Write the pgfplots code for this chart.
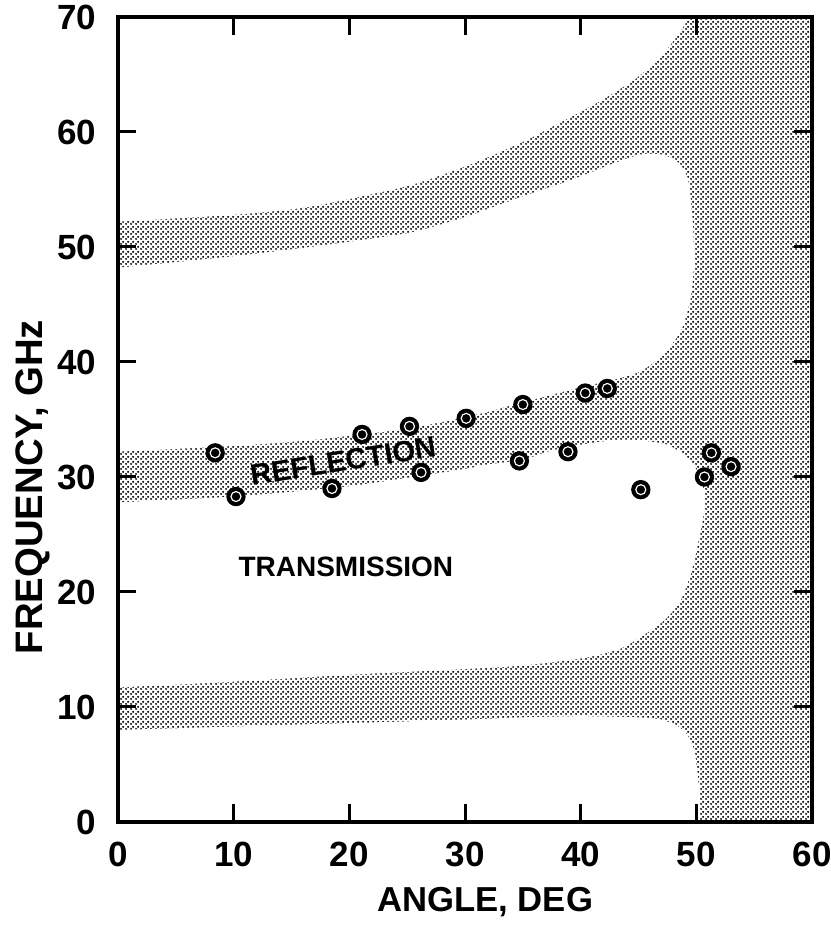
\documentclass[border=0pt]{standalone}
\usepackage{pgfplots}
\pgfplotsset{compat=1.18}
\usepackage{fontspec}
\setmainfont{Liberation Sans}
\usetikzlibrary{patterns}
\pgfdeclarepatternformonly{halftone}{\pgfqpoint{0pt}{0pt}}{\pgfqpoint{1.5pt}{1.5pt}}{\pgfqpoint{1.5pt}{1.5pt}}{%
 \pgfpathcircle{\pgfqpoint{0.375pt}{0.375pt}}{0.37pt}%
 \pgfpathcircle{\pgfqpoint{1.125pt}{1.125pt}}{0.37pt}%
 \pgfusepath{fill}}
\begin{document}
\begin{tikzpicture}
\begin{axis}[
  scale only axis, width=208.2pt, height=241.5pt,
  xmin=0, xmax=60, ymin=0, ymax=70,
  xtick={0,10,...,60}, ytick={0,10,...,70},
  tick align=inside, major tick length=5.4pt,
  every tick/.style={line width=0.9pt, black},
  axis line style={line width=1.2pt},
  axis on top,
  /pgf/number format/assume math mode=true,
  ticklabel style={font=\fontsize{10.5}{12}\selectfont\bfseries},
  xticklabel style={yshift=-2.5pt},
  yticklabel style={xshift=-3pt},
  xlabel={ANGLE, DEG}, ylabel={FREQUENCY, GHz},
  xlabel style={at={(axis description cs:0.529,-0.1)}, anchor=center, font=\fontsize{10.4}{12}\selectfont\bfseries},
  ylabel style={at={(axis description cs:-0.1225,0.416)}, anchor=center, rotate=0, font=\fontsize{11.5}{13}\selectfont\bfseries},
]
% shaded background
\addplot[draw=none, pattern=halftone, pattern color=black] coordinates {(-1,-1) (61,-1) (61,71) (-1,71)} -- cycle;
% white regions (transmission)
\addplot[draw=none, fill=white, smooth, tension=0.4] coordinates {
 (-1,-1) (50.3,-1) (50.3,0) (50.3,2) (50.1,4.3) (49.8,6.3) (49.2,7.6) (48.3,8.4) (47,8.9) (45,9.1) (40,9.2) (35,9.1) (30,8.9) (20,8.6) (10,8.3) (0,8.0) (-1,8.0)} -- cycle;
\addplot[draw=none, fill=white, smooth, tension=0.4] coordinates {
 (-1,11.7) (0,11.7) (10,12.2) (20,12.8) (30,13.3) (35,13.6) (40.5,14.3) (43.5,15.1) (45.5,16.3) (47.3,17.6) (48.6,19.2) (49.5,21.5) (50.1,24) (50.6,26.5) (50.7,28.5) (50.2,30.3) (49.2,31.7) (47.5,32.8) (45,33.2) (42.8,33.2) (40,32.8) (37.1,32.2) (35,31.5) (31.3,31.0) (30,30.7) (20,29.2) (10,28.3) (0,27.8) (-1,27.8)} -- cycle;
\addplot[draw=none, fill=white, smooth, tension=0.4] coordinates {
 (-1,32.2) (0,32.2) (10,32.7) (16.6,33.2) (25,34.2) (31.3,35.5) (35,36.5) (40,37.8) (43,38.5) (45.2,39.2) (47.2,40.7) (48.7,42.8) (49.5,45.5) (49.8,48.6) (49.7,52) (49.3,55.8) (48.5,57.3) (47.2,58) (45.5,58.1) (44,57.7) (41.9,56.9) (39.1,55.8) (34.7,54.3) (30,52.6) (25,51.2) (16.6,50) (10,49.2) (0,48.2) (-1,48.2)} -- cycle;
\addplot[draw=none, fill=white, smooth, tension=0.4] coordinates {
 (-1,52.2) (0,52.2) (10,52.8) (16.6,53.5) (25,55.3) (30,57.0) (34.7,59.0) (38,60.7) (41.7,62.7) (44.7,64.6) (46.8,66.4) (48.3,68.3) (49.4,70) (49.9,71) (-1,71)} -- cycle;
% measured points
\addplot[only marks, mark=*, mark size=2.7pt, mark options={fill=black, draw=black}] coordinates {
 (8.4,32.1) (10.2,28.3) (18.5,29.0) (21.1,33.7) (25.2,34.4) (26.2,30.4) (30.1,35.1) (35.0,36.3) (34.7,31.4) (38.9,32.2) (40.4,37.3) (42.3,37.7) (45.2,28.9) (50.7,30.0) (51.3,32.1) (53.0,30.9)};
\addplot[only marks, mark=o, mark size=1.5pt, mark options={draw=white, line width=0.35pt}] coordinates {
 (8.4,32.1) (10.2,28.3) (18.5,29.0) (21.1,33.7) (25.2,34.4) (26.2,30.4) (30.1,35.1) (35.0,36.3) (34.7,31.4) (38.9,32.2) (40.4,37.3) (42.3,37.7) (45.2,28.9) (50.7,30.0) (51.3,32.1) (53.0,30.9)};
\node[rotate=9, font=\fontsize{8.8}{10}\selectfont\bfseries] at (axis cs:19.5,31.4) {REFLECTION};
\node[font=\fontsize{8.4}{10}\selectfont\bfseries] at (axis cs:19.7,22.2) {TRANSMISSION};
\coordinate (bl) at (rel axis cs:0,0);
\coordinate (tr) at (rel axis cs:1,1);
\end{axis}
\pgfresetboundingbox
\path ([shift={(-35.4pt,-32.4pt)}]bl) rectangle ([shift={(5.4pt,5.1pt)}]tr);
\end{tikzpicture}
\end{document}
